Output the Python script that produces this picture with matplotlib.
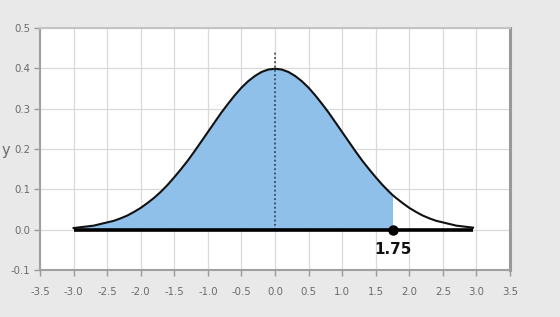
import matplotlib
matplotlib.use("Agg")
import matplotlib.pyplot as plt

# Curve sample points (x, y)
x_vals = [-3.0, -2.9, -2.8, -2.7, -2.6, -2.5, -2.4, -2.3, -2.2, -2.1,
          -2.0, -1.9, -1.8, -1.7, -1.6, -1.5, -1.4, -1.3, -1.2, -1.1,
          -1.0, -0.9, -0.8, -0.7, -0.6, -0.5, -0.4, -0.3, -0.2, -0.1,
          0.0, 0.1, 0.2, 0.3, 0.4, 0.5, 0.6, 0.7, 0.8, 0.9,
          1.0, 1.1, 1.2, 1.3, 1.4, 1.5, 1.6, 1.7, 1.75, 1.8, 1.9,
          2.0, 2.1, 2.2, 2.3, 2.4, 2.5, 2.6, 2.7, 2.8, 2.9, 2.95]
y_vals = [0.004, 0.006, 0.008, 0.010, 0.014, 0.018, 0.022, 0.028, 0.035, 0.044,
          0.054, 0.066, 0.079, 0.094, 0.111, 0.130, 0.150, 0.171, 0.194, 0.218,
          0.242, 0.266, 0.290, 0.312, 0.333, 0.352, 0.368, 0.381, 0.391, 0.397,
          0.399, 0.397, 0.391, 0.381, 0.368, 0.352, 0.333, 0.312, 0.290, 0.266,
          0.242, 0.218, 0.194, 0.171, 0.150, 0.130, 0.111, 0.094, 0.086, 0.079, 0.066,
          0.054, 0.044, 0.035, 0.028, 0.022, 0.018, 0.014, 0.010, 0.008, 0.006, 0.005]
marker_x = 1.75
marker_label = "1.75"
mean_x = 0.0
mean_line_top = 0.44
x_ticks = [-3.5, -3.0, -2.5, -2.0, -1.5, -1.0, -0.5, 0.0, 0.5, 1.0, 1.5, 2.0, 2.5, 3.0, 3.5]
y_ticks = [-0.1, 0.0, 0.1, 0.2, 0.3, 0.4, 0.5]

fig = plt.figure(figsize=(5.6, 3.17), dpi=100)
fig.patch.set_facecolor("#e9e9e9")
ax = fig.add_axes([40/560, 47/317, 470/560, 242/317])
ax.set_facecolor("white")

ax.set_xlim(-3.5, 3.5)
ax.set_ylim(-0.1, 0.5)
ax.set_xticks(x_ticks)
ax.set_yticks(y_ticks)
ax.set_xticklabels([f"{v:.1f}" for v in x_ticks])
ax.set_yticklabels([f"{v:.1f}" for v in y_ticks])
ax.grid(True, color="#d9d9d9", linewidth=0.9)
ax.set_axisbelow(True)

ax.tick_params(axis="both", colors="#999999", labelcolor="#6a6a6a", labelsize=7.3,
               length=4, width=1)
ax.tick_params(axis="x", pad=8)
ax.tick_params(axis="y", pad=3)

for side in ["left", "bottom"]:
    ax.spines[side].set_color("#a0a0a0")
    ax.spines[side].set_linewidth(1.5)
ax.spines["top"].set_color("#c4c4c4")
ax.spines["top"].set_linewidth(1.5)
ax.spines["right"].set_color("#999999")
ax.spines["right"].set_linewidth(2.2)

# shaded region up to marker
fx = [x for x in x_vals if x <= marker_x]
fy = [y for x, y in zip(x_vals, y_vals) if x <= marker_x]
ax.fill_between(fx, 0, fy, color="#8fc0ea", linewidth=0, zorder=2)

ax.plot(x_vals, y_vals, color="#111111", linewidth=1.5, zorder=3)
ax.plot([x_vals[0], x_vals[-1]], [0, 0], color="black", linewidth=2.6, zorder=4,
        solid_capstyle="butt")
ax.plot([mean_x, mean_x], [0, mean_line_top], color="#333333", linewidth=1.1,
        linestyle=(0, (1.2, 1.6)), zorder=3)
ax.plot([marker_x], [0], "o", color="black", markersize=6.5, zorder=5)
ax.text(marker_x, -0.05, marker_label, ha="center", va="center", fontsize=11,
        fontweight="bold", color="#111111", zorder=5)

fig.text(2/560, 1 - 151/317, "y", ha="left", va="center", fontsize=10.5, color="#6a6a6a")

fig.savefig("out.png", dpi=100, facecolor=fig.get_facecolor())
